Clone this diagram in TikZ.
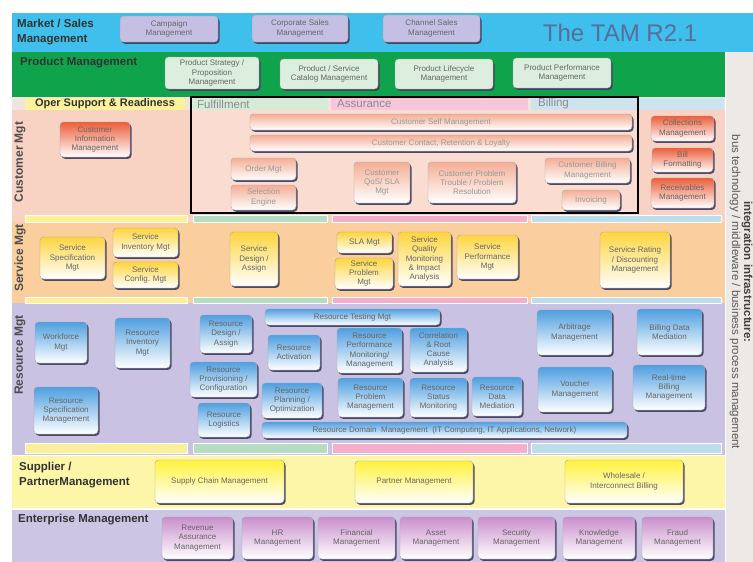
\documentclass[tikz,border=0pt]{standalone}
\usepackage{fontspec}
\setmainfont{Liberation Sans}
\usetikzlibrary{shadows}
\definecolor{mktc}{HTML}{3EBFEC}
\definecolor{prodc}{HTML}{0FA34C}
\definecolor{intgc}{HTML}{ECE9E6}
\definecolor{hdrc}{HTML}{F1E4DE}
\definecolor{custc}{HTML}{F8D2C3}
\definecolor{custin}{HTML}{FADCD0}
\definecolor{servc}{HTML}{FBCF9D}
\definecolor{resc}{HTML}{C9C2E2}
\definecolor{supc}{HTML}{FDF6A8}
\definecolor{entc}{HTML}{CCC5E4}
\definecolor{osrc}{HTML}{FCF29A}
\definecolor{fulc}{HTML}{D6EAD8}
\definecolor{assc}{HTML}{F6C6DB}
\definecolor{bilc}{HTML}{CDE3EE}
\definecolor{stry}{HTML}{FAF09A}
\definecolor{strg}{HTML}{B7DCC4}
\definecolor{strp}{HTML}{F4AECB}
\definecolor{strb}{HTML}{BEDDEC}
\definecolor{mboxc}{HTML}{C5BFE3}
\definecolor{pboxc}{HTML}{DCEEDD}
\definecolor{custtop}{HTML}{EC5E3A}
\definecolor{custpale}{HTML}{F4AE95}
\definecolor{servtop}{HTML}{FDD53F}
\definecolor{restop}{HTML}{4F9FE0}
\definecolor{suptop}{HTML}{FFF23C}
\definecolor{enttop}{HTML}{C98FCB}
\definecolor{shadowc}{HTML}{3B3B5C}
\definecolor{tamc}{HTML}{5A6C9C}
\tikzset{
  base/.style={rounded corners=3.5pt, draw=black!35, line width=0.4pt, align=center,
    inner sep=0pt, font=\fontsize{8}{9.2}\selectfont, text=black!60,
    drop shadow={shadow xshift=1.5pt, shadow yshift=-1.8pt, fill=shadowc, opacity=0.9}},
  mbox/.style={base, fill=mboxc},
  pbox/.style={base, fill=pboxc},
  cbox/.style={base, top color=custtop, bottom color=white},
  cpale/.style={base, top color=custpale, bottom color=white, text=black!40},
  sbox/.style={base, top color=servtop, bottom color=white},
  rbox/.style={base, top color=restop, bottom color=white},
  ybox/.style={base, top color=suptop, bottom color=white},
  ebox/.style={base, top color=enttop, bottom color=white},
  lbl/.style={font=\fontsize{11.5}{14.5}\selectfont\bfseries, text=black!80, inner sep=0pt, align=left},
  vlbl/.style={font=\fontsize{12}{14}\selectfont\bfseries, text=black!70, inner sep=0pt, rotate=90},
  hdr/.style={font=\fontsize{11.5}{12}\selectfont, text=black!45, inner sep=0pt, anchor=west}
}
\newcommand\tambox[7]{%
  \pgfmathsetmacro\tbw{#5-#3}\pgfmathsetmacro\tbh{#6-#4}%
  \node[#1, minimum width=\tbw pt, minimum height=\tbh pt] (#2) at ({(#3+#5)/2},{(#4+#6)/2}) {#7};}
\begin{document}
\begin{tikzpicture}[x=1pt,y=-1pt]
\useasboundingbox (0,0) rectangle (753,562);
\fill[white] (0,0) rectangle (753,562);
% bands
\fill[mktc] (12,13) rectangle (753,52);
\fill[prodc] (12,52) rectangle (725,97);
\fill[intgc] (726,52) rectangle (753,562);
\fill[hdrc] (12,97) rectangle (725,110);
\fill[custc] (12,110) rectangle (725,222);
\fill[custin] (191,110) rectangle (638,213);
\fill[servc] (12,222) rectangle (725,303);
\fill[resc] (12,303) rectangle (725,455);
\fill[supc] (12,456) rectangle (725,508);
\fill[entc] (12,510) rectangle (725,562);
% header columns
\fill[osrc] (25,98) rectangle (185,110);
\fill[fulc] (193,98) rectangle (328,110);
\fill[assc] (331,98) rectangle (528,110);
\fill[bilc] (531,98) rectangle (724,110);
% stripes
\foreach \ya/\yb in {215/222,297/303,443/453}{
  \fill[stry, draw=white, line width=0.6pt] (25,\ya) rectangle (187,\yb);
  \fill[strg, draw=white, line width=0.6pt] (193,\ya) rectangle (327,\yb);
  \fill[strp, draw=white, line width=0.6pt] (332,\ya) rectangle (527,\yb);
  \fill[strb, draw=white, line width=0.6pt] (531,\ya) rectangle (721,\yb);
}
% labels
\node[lbl, anchor=north west] (lmkt) at (17,19) {Market / Sales\\Management};
\node[lbl, anchor=west] (lprod) at (20,63) {Product Management};
\node[lbl, anchor=north west] (lsup) at (19,462) {Supplier /\\PartnerManagement};
\node[lbl, anchor=west] (lent) at (18,520) {Enterprise Management};
\node[lbl, anchor=center, font=\fontsize{11}{12}\selectfont\bfseries] (losr) at (105,104) {Oper Support \& Readiness};
\node[hdr] (lful) at (197,104) {Fulfillment};
\node[hdr] (lass) at (337,104) {Assurance};
\node[hdr] (lbil) at (538,104) {Billing};
\node[vlbl] (lcust) at (20,162) {Customer Mgt};
\node[vlbl] (lserv) at (20,258) {Service Mgt};
\node[vlbl] (lres) at (20,355) {Resource Mgt};
\node[font=\fontsize{24}{25}\selectfont, text=tamc, inner sep=0pt] (title) at (620,33) {The TAM R2.1};
\node[rotate=-90, font=\fontsize{11.5}{12}\selectfont\bfseries, text=black!75, inner sep=0pt] (lint1) at (747,272) {integration infrastructure:};
\node[rotate=-90, font=\fontsize{11.5}{12}\selectfont, text=black!65, inner sep=0pt] (lint2) at (735,292) {bus technology / middleware / business process management};
% market
\tambox{mbox}{mk1}{120}{16}{218}{42}{Campaign\\Management}
\tambox{mbox}{mk2}{252}{15}{348}{42}{Corporate Sales\\Management}
\tambox{mbox}{mk3}{383}{15}{480}{42}{Channel Sales\\Management}
% product
\tambox{pbox}{pr1}{165}{57}{259}{89}{Product Strategy /\\Proposition\\Management}
\tambox{pbox}{pr2}{280}{59}{378}{89}{Product / Service\\Catalog Management}
\tambox{pbox}{pr3}{395}{59}{493}{89}{Product Lifecycle\\Management}
\tambox{pbox}{pr4}{513}{58}{611}{88}{Product Performance\\Management}
% customer
\tambox{cbox}{cu1}{60}{122}{130}{157}{Customer\\Information\\Management}
\tambox{cpale}{bar1}{250}{114}{632}{130}{Customer Self Management}
\tambox{cpale}{bar2}{250}{135}{632}{151}{Customer Contact, Retention \& Loyalty}
\tambox{cpale}{ord}{231}{158}{296}{180}{Order Mgt}
\tambox{cpale}{sel}{231}{185}{296}{210}{Selection\\Engine}
\tambox{cpale}{qos}{354}{162}{410}{203}{Customer\\QoS/ SLA\\Mgt}
\tambox{cpale}{prb}{428}{162}{516}{203}{Customer Problem\\Trouble / Problem\\Resolution}
\tambox{cpale}{cbm}{545}{158}{630}{183}{Customer Billing\\Management}
\tambox{cpale}{inv}{562}{190}{620}{210}{Invoicing}
\tambox{cbox}{col}{651}{116}{714}{141}{Collections\\Management}
\tambox{cbox}{bf}{652}{148}{713}{172}{Bill\\Formatting}
\tambox{cbox}{rcv}{651}{178}{714}{208}{Receivables\\Management}
% service
\tambox{sbox}{ss}{40}{237}{105}{279}{Service\\Specification\\Mgt}
\tambox{sbox}{si}{113}{228}{178}{257}{Service\\Inventory Mgt}
\tambox{sbox}{sc}{113}{262}{178}{288}{Service\\Config. Mgt}
\tambox{sbox}{sd}{230}{232}{278}{286}{Service\\Design /\\Assign}
\tambox{sbox}{sla}{337}{232}{392}{253}{SLA Mgt}
\tambox{sbox}{sp}{335}{258}{393}{289}{Service\\Problem\\Mgt}
\tambox{sbox}{sq}{398}{232}{451}{286}{Service\\Quality\\Monitoring\\\& Impact\\Analysis}
\tambox{sbox}{spf}{457}{235}{518}{279}{Service\\Performance\\Mgt}
\tambox{sbox}{srd}{600}{232}{670}{288}{Service Rating\\/ Discounting\\Management}
% resource
\tambox{rbox}{wf}{35}{322}{87}{363}{Workforce\\Mgt}
\tambox{rbox}{ri}{115}{318}{170}{368}{Resource\\Inventory\\Mgt}
\tambox{rbox}{rs}{34}{387}{98}{434}{Resource\\Specification\\Management}
\tambox{rbox}{rd}{200}{315}{252}{353}{Resource\\Design /\\Assign}
\tambox{rbox}{rp}{190}{362}{257}{397}{Resource\\Provisioning /\\Configuration}
\tambox{rbox}{rl}{198}{403}{250}{437}{Resource\\Logistics}
\tambox{rbox}{rt}{265}{309}{440}{325}{Resource Testing Mgt}
\tambox{rbox}{ra}{268}{335}{320}{370}{Resource\\Activation}
\tambox{rbox}{rpl}{262}{383}{322}{418}{Resource\\Planning /\\Optimization}
\tambox{rbox}{rpm}{337}{328}{402}{373}{Resource\\Performance\\Monitoring/\\Management}
\tambox{rbox}{rca}{410}{328}{467}{372}{Correlation\\\& Root\\Cause\\Analysis}
\tambox{rbox}{rprm}{338}{378}{403}{417}{Resource\\Problem\\Management}
\tambox{rbox}{rsm}{410}{378}{467}{417}{Resource\\Status\\Monitoring}
\tambox{rbox}{rdm}{472}{377}{522}{416}{Resource\\Data\\Mediation}
\tambox{rbox}{ar}{537}{310}{612}{355}{Arbitrage\\Management}
\tambox{rbox}{bdm}{637}{309}{702}{355}{Billing Data\\Mediation}
\tambox{rbox}{vm}{538}{367}{612}{412}{Voucher\\Management}
\tambox{rbox}{rtb}{633}{365}{705}{410}{Real-time\\Billing\\Management}
\tambox{rbox}{rdom}{262}{422}{627}{438}{Resource Domain \ Management \ (IT Computing, IT Applications, Network)}
% supplier
\tambox{ybox}{sup1}{155}{460}{284}{503}{Supply Chain Management}
\tambox{ybox}{sup2}{355}{461}{473}{503}{Partner Management}
\tambox{ybox}{sup3}{565}{460}{683}{503}{Wholesale /\\Interconnect Billing}
% enterprise
\tambox{ebox}{e1}{162}{517}{233}{559}{Revenue\\Assurance\\Management}
\tambox{ebox}{e2}{242}{517}{313}{559}{HR\\Management}
\tambox{ebox}{e3}{318}{517}{395}{559}{Financial\\Management}
\tambox{ebox}{e4}{400}{517}{472}{559}{Asset\\Management}
\tambox{ebox}{e5}{478}{517}{555}{559}{Security\\Management}
\tambox{ebox}{e6}{563}{517}{635}{559}{Knowledge\\Management}
\tambox{ebox}{e7}{642}{517}{713}{559}{Fraud\\Management}
% framed area
\draw[line width=2pt, black] (191,97) rectangle (638,213);
\end{tikzpicture}
\end{document}
